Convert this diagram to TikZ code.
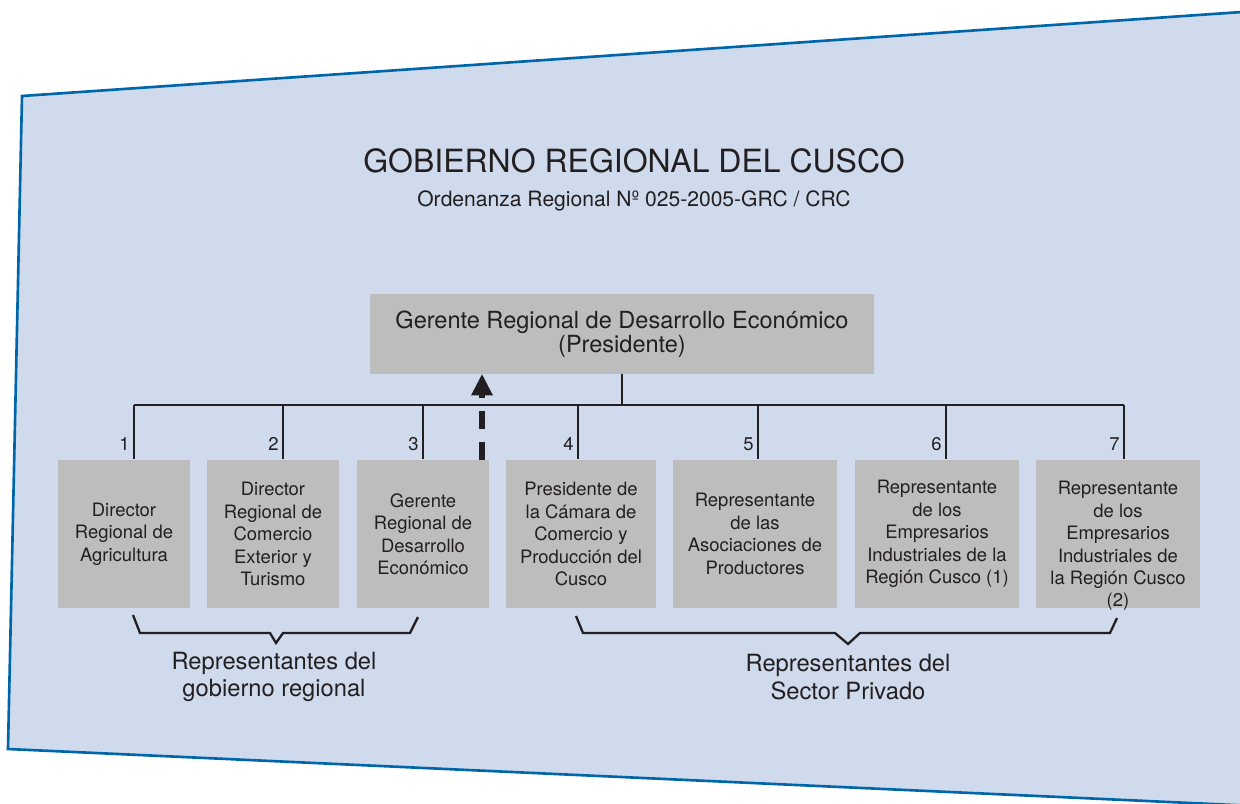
\documentclass[tikz,border=0pt]{standalone}
\usepackage{fontspec}
\setmainfont{TeX Gyre Heros}
\usepackage{xcolor}
\usetikzlibrary{arrows.meta}
\definecolor{panelblue}{HTML}{CFDAEC}
\definecolor{edgeblue}{HTML}{0066AA}
\definecolor{boxgray}{HTML}{BDBDBD}
\definecolor{ink}{HTML}{231F20}

\begin{document}
\begin{tikzpicture}[x=0.02cm,y=-0.02cm,
        box/.style={fill=boxgray,text=ink,minimum height=2.98cm,inner sep=0pt,align=center,font=\fontsize{10.5}{12.8}\selectfont},
        boxtext/.style={text=ink,inner sep=0pt,align=center,font=\fontsize{10.5}{12.8}\selectfont},
        numlab/.style={text=ink,inner sep=0pt,anchor=base east,font=\fontsize{10.5}{12}\selectfont},
        wire/.style={ink,line width=0.6pt},
        brace/.style={ink,line width=1.3pt},
        grouplab/.style={text=ink,inner sep=0pt,align=center,font=\fontsize{13.5}{15.5}\selectfont},
        dasharrow/.style={ink,line width=3pt,dash pattern=on 10.2pt off 7.4pt,-{Triangle[length=12pt,width=12.5pt,line width=0pt]}}]
            \useasboundingbox (0,0) rectangle (1240,804);
            \begin{scope}
            \clip (0,0) rectangle (1240,804);
            \filldraw[fill=panelblue,draw=edgeblue,line width=1.5pt] (22,96) -- (1300,8) -- (1300,808) -- (8,749) -- cycle;
            \end{scope}

            \node[text=ink,inner sep=0pt,anchor=base,font=\fontsize{18.2}{21.6}\selectfont] (title) at (634,173) {GOBIERNO REGIONAL DEL CUSCO};
            \node[text=ink,inner sep=0pt,anchor=base,font=\fontsize{12}{14.4}\selectfont] (subtitle) at (634,207) {Ordenanza Regional Nº 025-2005-GRC / CRC};

            \node[box,minimum width=10.08cm,minimum height=1.6cm,font=\fontsize{13.4}{12}\selectfont] (pres) at (622,334) {Gerente Regional de Desarrollo Económico\\(Presidente)};

            \node[box,minimum width=2.64cm] (b1) at (124,534) {Director\\Regional de\\Agricultura};
            \node[box,minimum width=2.64cm] (b2) at (273,534) {Director\\Regional de\\Comercio\\Exterior y\\Turismo};
            \node[box,minimum width=2.64cm] (b3) at (423,534) {Gerente\\Regional de\\Desarrollo\\Económico};
            \node[box,minimum width=3.0cm] (b4) at (581,534) {Presidente de\\la Cámara de\\Comercio y\\Producción del\\Cusco};
            \node[box,minimum width=3.28cm] (b5) at (755,534) {Representante\\de las\\Asociaciones de\\Productores};
            \node[box,minimum width=3.28cm] (b6) at (937,534) {Representante\\de los\\Empresarios\\Industriales de la\\Región Cusco (1)};
            \node[box,minimum width=3.28cm] (b7) at (1118,534) {};
            \node[boxtext] (b7t) at (1118,546) {Representante\\de los\\Empresarios\\Industriales de\\la Región Cusco\\(2)};

            \coordinate (t1) at (134,405);
            \coordinate (t2) at (283,405);
            \coordinate (t3) at (423,405);
            \coordinate (t4) at (578,405);
            \coordinate (t5) at (758,405);
            \coordinate (t6) at (946,405);
            \coordinate (t7) at (1124,405);
            \draw[wire] (t1) -- (t7);
            \draw[wire] (pres.south) -- (pres.south |- t1);
            \draw[wire] (t1) -- (t1 |- b1.north);
            \draw[wire] (t2) -- (t2 |- b2.north);
            \draw[wire] (t3) -- (t3 |- b3.north);
            \draw[wire] (t4) -- (t4 |- b4.north);
            \draw[wire] (t5) -- (t5 |- b5.north);
            \draw[wire] (t6) -- (t6 |- b6.north);
            \draw[wire] (t7) -- (t7 |- b7.north);
            \node[numlab] (n1) at (130,450) {1};
            \node[numlab] (n2) at (279,450) {2};
            \node[numlab] (n3) at (419,450) {3};
            \node[numlab] (n4) at (574,450) {4};
            \node[numlab] (n5) at (754,450) {5};
            \node[numlab] (n6) at (942,450) {6};
            \node[numlab] (n7) at (1120,450) {7};

            \coordinate (dashfoot) at (482,460);
            \draw[dasharrow] (dashfoot) -- (dashfoot |- pres.south);

            \draw[brace] (133,615) -- (140,633) -- (270,633) -- (276,643) -- (283,633) -- (410,633) -- (418,617);
            \draw[brace] (576,616) -- (583,633) -- (835,633) -- (848,644) -- (860,633) -- (1110,633) -- (1117,618);
            \node[grouplab] (gobierno) at (274,677) {Representantes del\\gobierno regional};
            \node[grouplab] (privado) at (848,677) {Representantes del\\Sector Privado};
        \end{tikzpicture}
\end{document}
